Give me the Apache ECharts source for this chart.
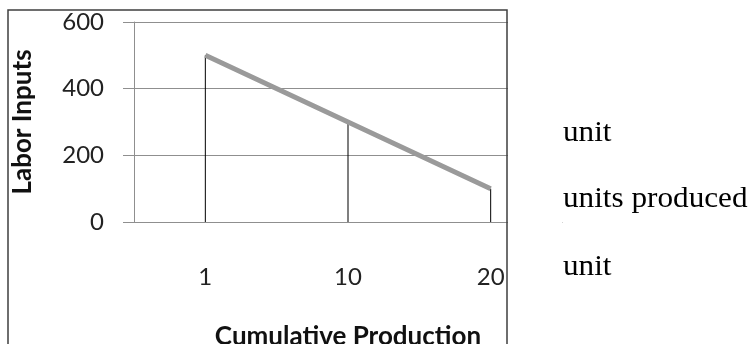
<!DOCTYPE html>
<html>
<head>
<meta charset="utf-8">
<script src="https://cdn.jsdelivr.net/npm/echarts@6/dist/echarts.min.js"></script>
<style>
  html, body { margin: 0; padding: 0; background: #fff; }
</style>
</head>
<body>
<div id="myChart" style="width:753px;height:344px;"></div>
<script>
// data
const categories = ['1', '10', '20']
const laborInputs = [500, 300, 100]
const yMin = 0
const yMax = 600
const yStep = 200
const sideNotes = ['unit', 'units produced', 'unit']

let myChart = echarts.init(document.getElementById('myChart'))

const axisFont = 'Lato, "Open Sans", sans-serif'
const gridGray = '#8f8f8f'

myChart.setOption({
  animation: false,
  backgroundColor: '#fff',
  grid: {
    left: 134,
    right: 191,
    top: 22,
    bottom: 122,
    outerBoundsMode: 'none',
    containLabel: false
  },
  xAxis: {
    type: 'category',
    data: categories,
    boundaryGap: true,
    name: 'Cumulative Production',
    nameLocation: 'middle',
    nameGap: 102,
    nameTextStyle: { fontFamily: axisFont, fontSize: 26, fontWeight: 'bold', color: '#111' },
    axisLine: { show: true, lineStyle: { color: gridGray, width: 1 } },
    axisTick: { show: false },
    axisLabel: { fontFamily: axisFont, fontSize: 24, color: '#222', margin: 43 },
    splitLine: { show: false }
  },
  yAxis: {
    type: 'value',
    min: yMin,
    max: yMax,
    interval: yStep,
    name: 'Labor Inputs',
    nameLocation: 'middle',
    nameGap: 98,
    nameTextStyle: { fontFamily: axisFont, fontSize: 26, fontWeight: 'bold', color: '#111' },
    axisLine: { show: true, lineStyle: { color: gridGray, width: 1 } },
    axisTick: { show: true, length: 11, lineStyle: { color: gridGray, width: 1 } },
    axisLabel: { fontFamily: axisFont, fontSize: 24, color: '#222', margin: 30 },
    splitLine: { show: true, lineStyle: { color: gridGray, width: 1 } }
  },
  series: [
    {
      // thin drop lines from each point down to the axis
      type: 'bar',
      data: laborInputs,
      barWidth: 1,
      itemStyle: { color: '#000' },
      z: 2
    },
    {
      type: 'line',
      data: laborInputs,
      showSymbol: false,
      lineStyle: { color: '#9a9a9a', width: 5 },
      z: 3
    }
  ],
  graphic: [
    // the picture is cut at the frame's right edge
    {
      type: 'rect',
      z: 100,
      shape: { x: 508, y: 12, width: 54, height: 300 },
      style: { fill: '#fff' }
    },
    {
      type: 'rect',
      z: 101,
      shape: { x: 8, y: 10, width: 499, height: 360 },
      style: { fill: null, stroke: '#3f3f3f', lineWidth: 1.5 }
    }
  ].concat(sideNotes.map((t, i) => ({
    type: 'text',
    z: 101,
    x: 563,
    y: [133, 199, 267][i],
    scaleX: 1.04,
    style: {
      text: t,
      fontFamily: '"Liberation Serif", "Times New Roman", serif',
      fontSize: 30,
      fill: '#000',
      verticalAlign: 'middle'
    }
  })))
})
</script>
</body>
</html>
